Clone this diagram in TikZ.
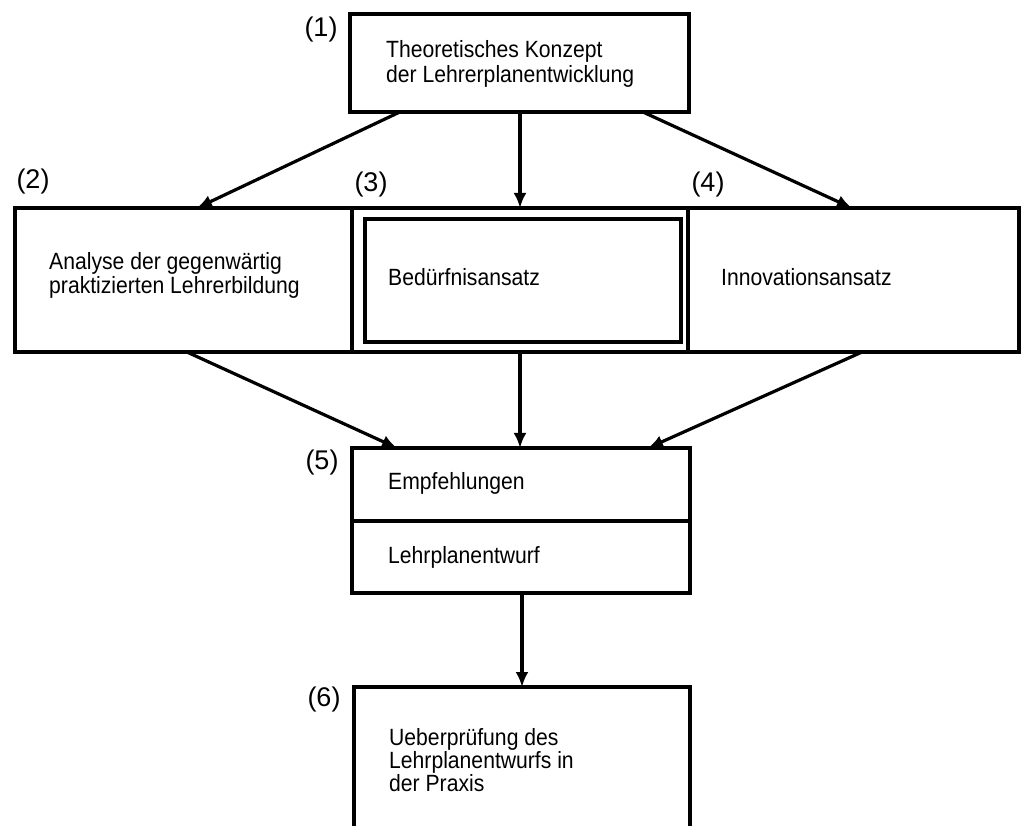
\documentclass[tikz,border=0pt]{standalone}
\usepackage{fontspec}
\setmainfont{Liberation Sans}
\newfontfamily\condfont[FakeStretch=0.9]{Liberation Sans}
\usetikzlibrary{calc,arrows.meta}
\tikzset{
  box/.style={draw, line width=3.4pt, inner sep=0pt, outer sep=0pt, anchor=north west},
  txt/.style={inner sep=0pt, anchor=west, align=left, font=\condfont\fontsize{23.5}{24.5}\selectfont},
  num/.style={inner sep=0pt, font=\fontsize{27}{30}\selectfont},
  arr/.style={line width=3.2pt, -{Latex[length=15pt,width=13pt]}}
}
\begin{document}
\begin{tikzpicture}[x=1pt,y=-1pt]
\useasboundingbox (0,0) rectangle (1021,826);
% boxes
\node[box, minimum width=339pt, minimum height=98pt] (b1) at (350,14) {};
\node[box, minimum width=337pt, minimum height=144pt] (b2) at (15,208) {};
\node[box, minimum width=336pt, minimum height=144pt] (b3) at (352,208) {};
\node[box, line width=4pt, minimum width=316pt, minimum height=123pt] (b3i) at (365,219) {};
\node[box, minimum width=331pt, minimum height=144pt] (b4) at (688,208) {};
\node[box, minimum width=338pt, minimum height=73pt] (b5a) at (352,448) {};
\node[box, minimum width=338pt, minimum height=72pt] (b5b) at (352,521) {};
\node[inner sep=0pt, outer sep=0pt, anchor=north west, minimum width=336pt, minimum height=160pt] (b6) at (354,687) {};
\draw[line width=3.4pt] (b6.south west) -- (b6.north west) -- (b6.north east) -- (b6.south east);
% texts
\node[txt] (t1) at (386,64) {Theoretisches Konzept\\der Lehrerplanentwicklung};
\node[txt] (t2) at (49,275.5) {Analyse der gegenwärtig\\praktizierten Lehrerbildung};
\node[txt] (t3) at (388,277) {Bedürfnisansatz};
\node[txt] (t4) at (721,277) {Innovationsansatz};
\node[txt] (t5a) at (388,483) {Empfehlungen};
\node[txt] (t5b) at (388,557) {Lehrplanentwurf};
\node[txt, font=\condfont\fontsize{23.5}{23}\selectfont] (t6) at (389,760) {Ueberprüfung des\\Lehrplanentwurfs in\\der Praxis};
% numbers
\node[num] (l1) at (321,30) {(1)};
\node[num] (l2) at (33,182) {(2)};
\node[num] (l3) at (371,185) {(3)};
\node[num] (l4) at (708,185) {(4)};
\node[num] (l5) at (322,463) {(5)};
\node[num] (l6) at (324,700) {(6)};
% arrows
\draw[arr] ($(b1.south west)!0.147!(b1.south east)$) -- ($(b2.north west)!0.54!(b2.north east)$);
\draw[arr] (b1.south -| b3.north) -- (b3.north);
\draw[arr] ($(b1.south west)!0.864!(b1.south east)$) -- ($(b4.north west)!0.495!(b4.north east)$);
\draw[arr] ($(b2.south west)!0.51!(b2.south east)$) -- ($(b5a.north west)!0.133!(b5a.north east)$);
\draw[arr] (b3.south) -- (b3.south |- b5a.north);
\draw[arr] ($(b4.south west)!0.526!(b4.south east)$) -- ($(b5a.north west)!0.876!(b5a.north east)$);
\draw[arr] (b5b.south -| b6.north) -- (b6.north);
\end{tikzpicture}
\end{document}
